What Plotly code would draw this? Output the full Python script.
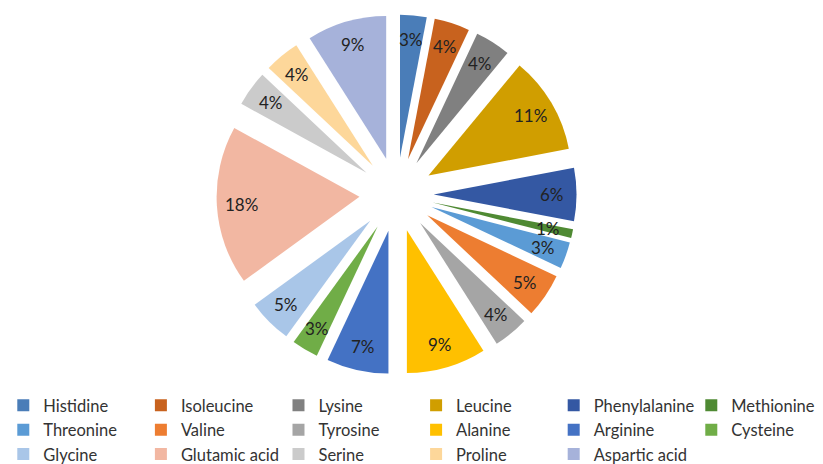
import math
import plotly.graph_objects as go

# Amino acid composition (% of total residues)
amino_acids = [
    "Histidine", "Isoleucine", "Lysine", "Leucine", "Phenylalanine", "Methionine",
    "Threonine", "Valine", "Tyrosine", "Alanine", "Arginine", "Cysteine",
    "Glycine", "Glutamic acid", "Serine", "Proline", "Aspartic acid",
]
percent = [3, 4, 4, 11, 6, 1, 3, 5, 4, 9, 7, 3, 5, 18, 4, 4, 9]

colors = [
    "#4A7DB8", "#C8621E", "#808080", "#D09E00", "#3458A3", "#4F8A33",
    "#5B9BD5", "#ED7D31", "#A5A5A5", "#FFC000", "#4472C4", "#70AD47",
    "#A9C6E8", "#F2B7A2", "#CBCBCB", "#FDD79A", "#A6B2DA",
]

W, H = 823, 464
PULL = 0.26
FONT = "Lato, Carlito, Calibri, sans-serif"

# pie box (paper fractions)
dom_x = [0.2631, 0.7005]
dom_y = [0.1929, 0.9688]

fig = go.Figure(go.Pie(
    labels=amino_acids,
    values=percent,
    sort=False,
    direction="clockwise",
    rotation=0,
    pull=[PULL] * len(percent),
    marker=dict(colors=colors, line=dict(width=0)),
    textinfo="none",
    hoverinfo="label+value",
    domain=dict(x=dom_x, y=dom_y),
))

# percentage labels placed near the outer end of each exploded slice,
# using the same geometry plotly uses for the pie
box_w = (dom_x[1] - dom_x[0]) * W
box_h = (dom_y[1] - dom_y[0]) * H
r = min(box_w, box_h) / (2 + 2 * PULL)
cx = W * (dom_x[0] + dom_x[1]) / 2
cy = H * (1 - (dom_y[0] + dom_y[1]) / 2)
total = sum(percent)
cum = 0.0
for v in percent:
    mid = 2 * math.pi * (cum + v / 2) / total
    cum += v
    rad = PULL * r + 0.83 * r
    px = cx + rad * math.sin(mid)
    py = cy - rad * math.cos(mid)
    fig.add_annotation(
        x=px / W, y=1 - py / H, xref="paper", yref="paper",
        text=f"{v}%", showarrow=False,
        font=dict(family=FONT, size=17, color="#222222"),
        xanchor="center", yanchor="middle",
        borderpad=0,
    )

fig.update_layout(
    width=W, height=H,
    margin=dict(l=0, r=0, t=0, b=0, autoexpand=False),
    paper_bgcolor="white",
    plot_bgcolor="white",
    showlegend=True,
    legend=dict(
        orientation="h",
        x=0.004, xanchor="left",
        y=0.1638, yanchor="top",
        entrywidth=92.6, entrywidthmode="pixels",
        font=dict(family=FONT, size=16.5, color="#333333"),
        itemwidth=30,
        bgcolor="rgba(0,0,0,0)",
    ),
)

fig.write_html("out.html")
